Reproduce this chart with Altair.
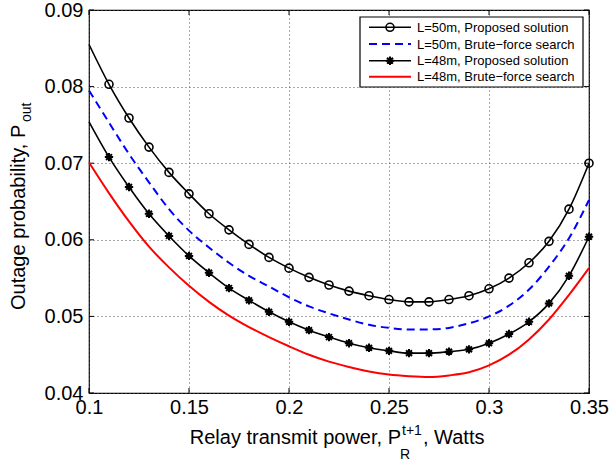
import altair as alt
import pandas as pd

# ---- data ----
x_vals = [0.10, 0.11, 0.12, 0.13, 0.14, 0.15, 0.16, 0.17, 0.18, 0.19, 0.20, 0.21, 0.22,
          0.23, 0.24, 0.25, 0.26, 0.27, 0.28, 0.29, 0.30, 0.31, 0.32, 0.33, 0.34, 0.35]

l50_proposed = [0.0855, 0.0803, 0.0759, 0.0721, 0.0688, 0.0660, 0.0634, 0.0613, 0.0594,
                0.0577, 0.0563, 0.0551, 0.0541, 0.0533, 0.0527, 0.0522, 0.0519, 0.0519,
                0.0522, 0.0527, 0.0536, 0.0550, 0.0570, 0.0598, 0.0640, 0.0700]
l50_brute = [0.0795, 0.0753, 0.0712, 0.0675, 0.0640, 0.0612, 0.0590, 0.0570, 0.0553,
             0.0539, 0.0525, 0.0513, 0.0504, 0.0496, 0.0489, 0.0485, 0.0483, 0.0483,
             0.0485, 0.0491, 0.0500, 0.0514, 0.0535, 0.0565, 0.0602, 0.0652]
l48_proposed = [0.0754, 0.0708, 0.0669, 0.0634, 0.0605, 0.0579, 0.0557, 0.0537, 0.0521,
                0.0506, 0.0493, 0.0482, 0.0473, 0.0465, 0.0459, 0.0455, 0.0452, 0.0452,
                0.0454, 0.0457, 0.0465, 0.0477, 0.0493, 0.0517, 0.0553, 0.0604]
l48_brute = [0.0701, 0.0661, 0.0624, 0.0591, 0.0564, 0.0540, 0.0519, 0.0501, 0.0486,
             0.0473, 0.0461, 0.0450, 0.0441, 0.0434, 0.0428, 0.0424, 0.0422, 0.0421,
             0.0423, 0.0427, 0.0436, 0.0450, 0.0470, 0.0496, 0.0528, 0.0563]

series_names = ["L=50m, Proposed solution", "L=50m, Brute\u2212force search",
                "L=48m, Proposed solution", "L=48m, Brute\u2212force search"]

x_ticks = [0.1, 0.15, 0.2, 0.25, 0.3, 0.35]
y_ticks = [0.04, 0.05, 0.06, 0.07, 0.08, 0.09]

FONT = "Liberation Sans"
W, H = 500, 383
ASTERISK = "M-1,0L1,0M0,-1L0,1M-0.7,-0.7L0.7,0.7M-0.7,0.7L0.7,-0.7"

xscale = alt.Scale(domain=[0.1, 0.35], nice=False, zero=False)
yscale = alt.Scale(domain=[0.04, 0.09], nice=False, zero=False)


def frame(vals):
    return pd.DataFrame({"x": x_vals, "y": vals})


X = alt.X("x:Q", scale=xscale, title=None)
Y = alt.Y("y:Q", scale=yscale, title=None)

# base layer carrying axes and grid
axes_layer = alt.Chart(frame(l50_proposed)).mark_line(opacity=0).encode(
    x=alt.X("x:Q", scale=xscale, title=None,
            axis=alt.Axis(values=x_ticks, format=".2~f", grid=True, gridDash=[1, 3],
                          gridColor="#555", gridWidth=1, ticks=False, domain=False,
                          labelFont=FONT, labelFontSize=20, labelColor="black",
                          labelPadding=4, labelFlush=False)),
    y=alt.Y("y:Q", scale=yscale, title=None,
            axis=alt.Axis(values=y_ticks, format=".2f", grid=True, gridDash=[1, 3],
                          gridColor="#555", gridWidth=1, ticks=False, domain=False,
                          labelFont=FONT, labelFontSize=20, labelColor="black",
                          labelPadding=6, labelFlush=False)),
)

layers = [axes_layer]

# inward tick marks on all four sides
xt = pd.DataFrame({"t": x_ticks})
yt = pd.DataFrame({"t": y_ticks})
for y0, y1 in [(H, H - 5), (0, 5)]:
    layers.append(alt.Chart(xt).mark_rule(color="black", strokeWidth=1).encode(
        x=alt.X("t:Q", scale=xscale), y=alt.value(y0), y2=alt.value(y1)))
for x0, x1 in [(0, 5), (W, W - 5)]:
    layers.append(alt.Chart(yt).mark_rule(color="black", strokeWidth=1).encode(
        y=alt.Y("t:Q", scale=yscale), x=alt.value(x0), x2=alt.value(x1)))

# curves
layers.append(alt.Chart(frame(l48_brute)).mark_line(
    color="#ff0000", strokeWidth=2, interpolate="monotone").encode(x=X, y=Y))
layers.append(alt.Chart(frame(l50_brute)).mark_line(
    color="#0000ff", strokeWidth=2, strokeDash=[8, 5], interpolate="monotone").encode(x=X, y=Y))
layers.append(alt.Chart(frame(l48_proposed)).mark_line(
    color="black", strokeWidth=1.6, interpolate="monotone").encode(x=X, y=Y))
layers.append(alt.Chart(frame(l50_proposed)).mark_line(
    color="black", strokeWidth=1.6, interpolate="monotone").encode(x=X, y=Y))

# markers (from 0.11 onward)
layers.append(alt.Chart(frame(l50_proposed).iloc[1:]).mark_point(
    shape="circle", filled=False, color="black", size=64, strokeWidth=1.6, opacity=1
).encode(x=X, y=Y))
layers.append(alt.Chart(frame(l48_proposed).iloc[1:]).mark_point(
    shape=ASTERISK, filled=False, color="black", size=70, strokeWidth=2, opacity=1
).encode(x=X, y=Y))

# legend (drawn manually)
LX0, LX1, LY0, LY1 = 271, 494, 7, 77
layers.append(alt.Chart(pd.DataFrame({"a": [0]})).mark_rect(
    fill="white", stroke="black", strokeWidth=1.2).encode(
    x=alt.value(LX0), x2=alt.value(LX1), y=alt.value(LY0), y2=alt.value(LY1)))

row_y = [17.3, 34, 50.7, 66.7]
styles = [
    dict(color="black", strokeWidth=1.6),
    dict(color="#0000ff", strokeWidth=2, strokeDash=[8, 5]),
    dict(color="black", strokeWidth=1.6),
    dict(color="#ff0000", strokeWidth=2),
]
for i, name in enumerate(series_names):
    d = pd.DataFrame({"label": [name]})
    layers.append(alt.Chart(d).mark_rule(**styles[i]).encode(
        x=alt.value(280), x2=alt.value(322), y=alt.value(row_y[i])))
    if i == 0:
        layers.append(alt.Chart(d).mark_point(
            shape="circle", filled=False, color="black", size=64, strokeWidth=1.6,
            opacity=1).encode(x=alt.value(301), y=alt.value(row_y[i])))
    if i == 2:
        layers.append(alt.Chart(d).mark_point(
            shape=ASTERISK, filled=False, color="black", size=70, strokeWidth=2,
            opacity=1).encode(x=alt.value(301), y=alt.value(row_y[i])))
    layers.append(alt.Chart(d).mark_text(
        align="left", baseline="middle", font=FONT, fontSize=13, color="black").encode(
        x=alt.value(328), y=alt.value(row_y[i] + 0.5), text="label:N"))

# x-axis title with super/subscript
t = pd.DataFrame({"s": ["Relay transmit power, P"]})
layers.append(alt.Chart(t).mark_text(
    align="right", baseline="alphabetic", font=FONT, fontSize=20, color="black").encode(
    x=alt.value(312), y=alt.value(434), text="s:N"))
layers.append(alt.Chart(pd.DataFrame({"s": ["t+1"]})).mark_text(
    align="left", baseline="alphabetic", font=FONT, fontSize=14, color="black").encode(
    x=alt.value(313), y=alt.value(425), text="s:N"))
layers.append(alt.Chart(pd.DataFrame({"s": ["R"]})).mark_text(
    align="left", baseline="alphabetic", font=FONT, fontSize=14, color="black").encode(
    x=alt.value(311), y=alt.value(449), text="s:N"))
layers.append(alt.Chart(pd.DataFrame({"s": [", Watts"]})).mark_text(
    align="left", baseline="alphabetic", font=FONT, fontSize=20, color="black").encode(
    x=alt.value(334), y=alt.value(434), text="s:N"))

# y-axis title with subscript
layers.append(alt.Chart(pd.DataFrame({"s": ["Outage probability, P"]})).mark_text(
    align="left", baseline="alphabetic", font=FONT, fontSize=20, color="black",
    angle=270).encode(x=alt.value(-64), y=alt.value(300), text="s:N"))
layers.append(alt.Chart(pd.DataFrame({"s": ["out"]})).mark_text(
    align="left", baseline="alphabetic", font=FONT, fontSize=14, color="black",
    angle=270).encode(x=alt.value(-58), y=alt.value(112), text="s:N"))

chart = alt.layer(*layers).properties(
    width=W, height=H,
    padding={"left": 89, "top": 10, "right": 21, "bottom": 69},
    autosize=alt.AutoSizeParams(type="none"),
    background="white",
).configure_view(stroke="black", strokeWidth=1.2)

chart.save("out.html", embed_options={"renderer": "svg", "actions": False})
